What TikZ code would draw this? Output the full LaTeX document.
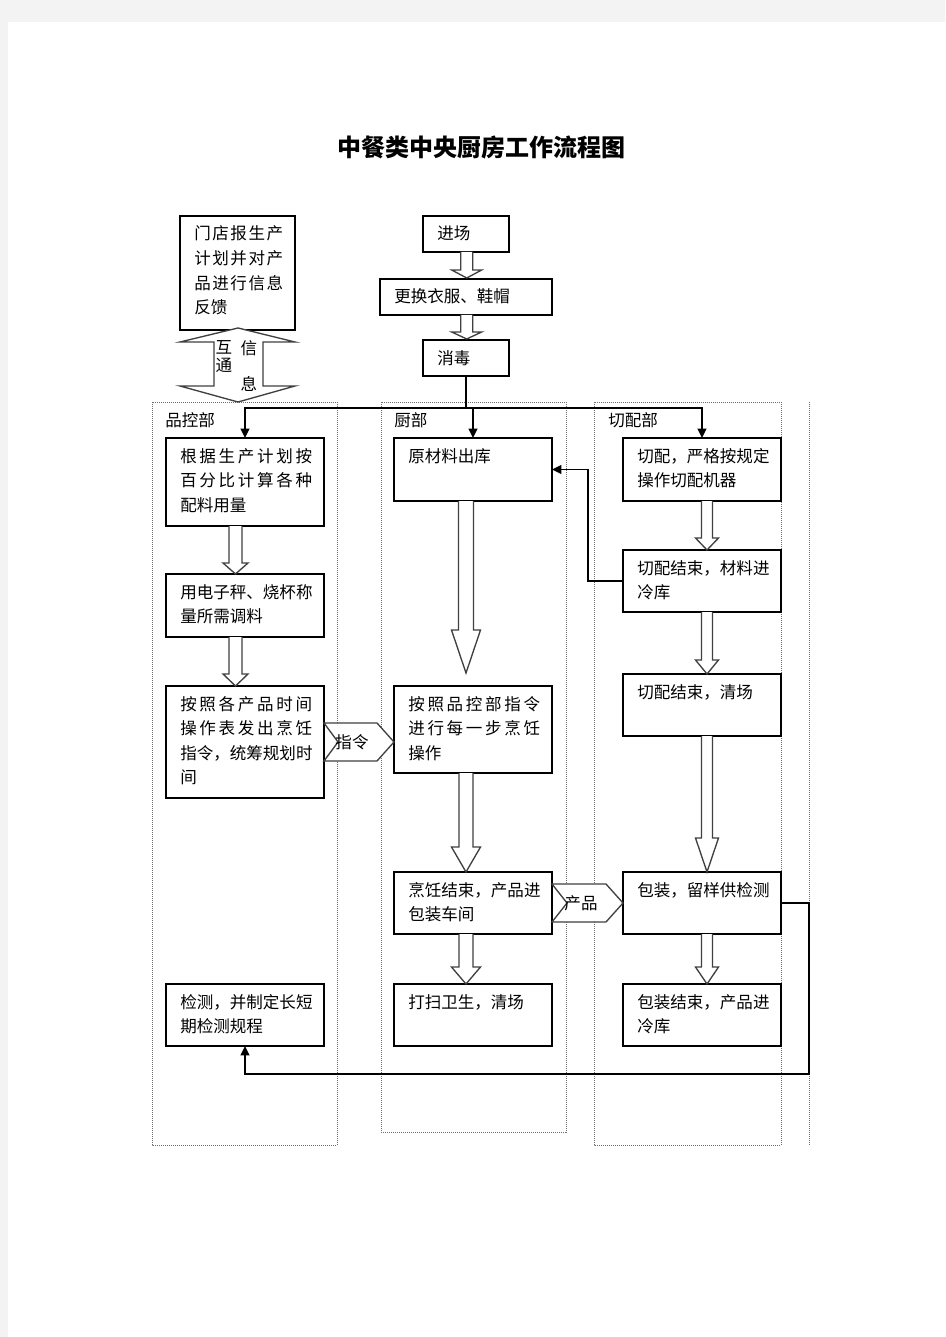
\documentclass[tikz,border=0pt]{standalone}
\usepackage{fontspec}
\setmainfont{Noto Sans CJK SC}
\usetikzlibrary{arrows.meta,calc}
\definecolor{pagegray}{RGB}{243,243,243}
\definecolor{lanegray}{RGB}{110,110,110}
\newlength\ux \setlength\ux{0.75pt}
\makeatletter
\newcommand\jl[2]{\makebox[#2][s]{\@tfor\jc:=#1\do{\jc\hfil}\unskip}}
\makeatother
\newcommand\mybox[6]{%
  \node[box, minimum width=#4\ux, minimum height=#5\ux] (#1) at (#2,#3) {};
  \node[txt] (#1t) at ($(#1.north west)+(14,24)$) {\parbox[t]{150\ux}{#6}};}
\newcommand\blk[7]{%
  \draw[blockarrow] let \p1=(#2.south), \p2=(#3.north) in
  ({(#1-#6)*\ux},\y1) -- ({(#1-#6)*\ux},{\y2+(#4+#5)*\ux}) -- ({(#1-#7)*\ux},{\y2+(#4+#5)*\ux})
  -- ({#1*\ux},{\y2+#4*\ux}) -- ({(#1+#7)*\ux},{\y2+(#4+#5)*\ux}) -- ({(#1+#6)*\ux},{\y2+(#4+#5)*\ux})
  -- ({(#1+#6)*\ux},\y1);}
\begin{document}
\begin{tikzpicture}[x=0.75pt,y=-0.75pt,
  box/.style={draw=black, line width=1pt, fill=white, anchor=north west, inner sep=0pt, outer sep=0pt},
  txt/.style={inner sep=0pt, anchor=base west, font=\fontsize{12.4pt}{18.45pt}\selectfont},
  ctxt/.style={inner sep=0pt, font=\fontsize{12.4pt}{18.45pt}\selectfont},
  lane/.style={draw=lanegray, line width=0.7pt, dash pattern=on 0.75pt off 0.75pt},
  conn/.style={draw=black, line width=1.3pt},
  arr/.style={conn, -{Triangle[length=7pt,width=6.5pt]}},
  blockarrow/.style={draw=black!75, line width=1pt, fill=white, line join=miter}]
\useasboundingbox (0,0) rectangle (945,1337);
\fill[pagegray] (0,0) rectangle (945,1337);
\fill[white] (8,22) rectangle (945,1337);

% title
\node[inner sep=0pt, font=\fontsize{18pt}{20pt}\selectfont\bfseries] (title) at (481,148) {中餐类中央厨房工作流程图};

% swim lanes
\draw[lane] (152,402) rectangle (337,1145);
\draw[lane] (381,402) rectangle (566,1132);
\draw[lane] (594,402) rectangle (781,1145);
\draw[lane] (809,402) -- (809,1145);
\node[txt] (l1) at (165,426) {品控部};
\node[txt] (l2) at (394,426) {厨部};
\node[txt] (l3) at (608,426) {切配部};

% boxes
\mybox{md}{180}{216}{115}{114}{\jl{门店报生产}{89\ux}\\\jl{计划并对产}{89\ux}\\\jl{品进行信息}{89\ux}\\反馈}
\mybox{jc}{423}{216}{86}{36}{进场}
\mybox{gh}{380}{279}{172}{36}{更换衣服、鞋帽}
\mybox{xd}{423}{340}{86}{36}{消毒}
\mybox{b1}{166}{438}{158}{88}{\jl{根据生产计划按}{132\ux}\\\jl{百分比计算各种}{132\ux}\\配料用量}
\mybox{b2}{166}{574}{158}{63}{用电子秤、烧杯称\\量所需调料}
\mybox{b3}{166}{686}{158}{112}{\jl{按照各产品时间}{132\ux}\\\jl{操作表发出烹饪}{132\ux}\\指令，统筹规划时\\间}
\mybox{b4}{166}{984}{158}{62}{检测，并制定长短\\期检测规程}
\mybox{k1}{394}{438}{158}{63}{原材料出库}
\mybox{k2}{394}{686}{158}{87}{\jl{按照品控部指令}{132\ux}\\\jl{进行每一步烹饪}{132\ux}\\操作}
\mybox{k3}{394}{872}{158}{62}{烹饪结束，产品进\\包装车间}
\mybox{k4}{394}{984}{158}{62}{打扫卫生，清场}
\mybox{c1}{623}{438}{158}{63}{切配，严格按规定\\操作切配机器}
\mybox{c2}{623}{550}{158}{62}{切配结束，材料进\\冷库}
\mybox{c3}{623}{674}{158}{62}{切配结束，清场}
\mybox{c4}{623}{872}{158}{62}{包装，留样供检测}
\mybox{c5}{623}{984}{158}{62}{包装结束，产品进\\冷库}

% block arrows
\blk{466.7}{jc}{gh}{1}{8}{6}{15}
\blk{466.7}{gh}{xd}{1}{7}{6}{15}
\blk{235.5}{b1}{b2}{0}{11}{6.5}{12.5}
\blk{235.5}{b2}{b3}{0}{12}{6.5}{12.5}
\blk{466}{k1}{k2}{13}{43}{7.5}{14.5}
\blk{466}{k2}{k3}{0}{25}{7}{14.5}
\blk{466}{k3}{k4}{0}{17}{7}{14.5}
\blk{707}{c1}{c2}{0}{12}{5.5}{11.5}
\blk{707}{c2}{c3}{0}{14}{5.5}{11.5}
\blk{707}{c3}{c4}{0}{34}{5.5}{11.5}
\blk{707}{c4}{c5}{0}{17}{5.5}{11.5}

% double arrow between report box and lanes
\draw[blockarrow] (238,328) -- (295,342) -- (263,342) -- (263,386) -- (295,386) -- (238,402)
  -- (180,386) -- (214,386) -- (214,342) -- (180,342) -- cycle;
\node[ctxt] (h1) at (224,347) {互};
\node[ctxt] (h2) at (224,365) {通};
\node[ctxt] (h3) at (249,348) {信};
\node[ctxt] (h4) at (249,384) {息};

% pentagon arrows
\draw[blockarrow] (b3.east) ++(0,-19) -- ++(53,0) -- ++(17,19) -- ++(-17,19) -- ++(-53,0) -- ++(14,-19) -- cycle;
\node[ctxt] (zl) at ($(b3.east)+(28,0)$) {指令};
\draw[blockarrow] (k3.east) ++(0,-19) -- ++(54,0) -- ++(17,19) -- ++(-17,19) -- ++(-54,0) -- ++(15,-19) -- cycle;
\node[ctxt] (cp) at ($(k3.east)+(29,0)$) {产品};

% connectors
\coordinate (bus) at (466,408);
\draw[conn] (xd.south) -- (bus);
\draw[arr] (bus) -| (b1.north);
\draw[arr] (bus) -| (k1.north);
\draw[arr] (bus) -| (c1.north);
\draw[arr] (c2.west) -- ++(-35,0) |- (k1.east);
\coordinate (rr) at (809,1074);
\draw[arr] (c4.east) -| (rr) -| (b4.south);
\end{tikzpicture}
\end{document}
